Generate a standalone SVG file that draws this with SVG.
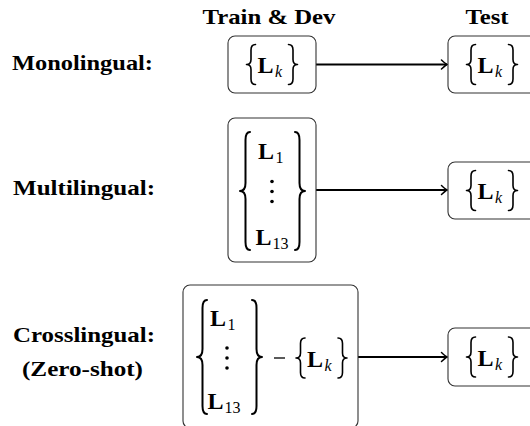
<svg xmlns="http://www.w3.org/2000/svg" width="530" height="426" viewBox="0 0 530 426">
<defs>
<style>
.lbl{font-family:"Liberation Serif","Times New Roman",serif;font-weight:bold;font-size:22px;fill:#000}
.L{font-family:"Liberation Serif","Times New Roman",serif;font-weight:bold;font-size:24px;fill:#000}
.sub{font-family:"Liberation Serif","Times New Roman",serif;font-size:16px;fill:#000}
.subi{font-family:"Liberation Serif","Times New Roman",serif;font-style:italic;font-size:16px;fill:#000}
.box{fill:#fff;stroke:#333;stroke-width:1.1}
.br{fill:none;stroke:#000;stroke-width:1.6;stroke-linecap:round;stroke-linejoin:round}
.brb{fill:none;stroke:#000;stroke-width:2;stroke-linecap:round;stroke-linejoin:round}
.edge{fill:none;stroke:#000;stroke-width:1.8}
</style>
<marker id="arr" markerUnits="userSpaceOnUse" markerWidth="12" markerHeight="12" viewBox="-8 -6 10 12" refX="0" refY="0" orient="auto">
<path d="M-5.5,-4.5 Q-1.5,-0.8 0,0 Q-1.5,0.8 -5.5,4.5" fill="none" stroke="#000" stroke-width="1.5" stroke-linecap="round"/>
</marker>
</defs>

<g id="headers">
<text class="lbl" x="269" y="24" text-anchor="middle" textLength="133" lengthAdjust="spacingAndGlyphs">Train &amp; Dev</text>
<text class="lbl" x="487" y="24" text-anchor="middle" textLength="43" lengthAdjust="spacingAndGlyphs">Test</text>
</g>

<g id="row-labels">
<text class="lbl" x="12" y="70" textLength="141" lengthAdjust="spacingAndGlyphs">Monolingual:</text>
<text class="lbl" x="13" y="195" textLength="142" lengthAdjust="spacingAndGlyphs">Multilingual:</text>
<text class="lbl" x="13" y="342" textLength="142" lengthAdjust="spacingAndGlyphs">Crosslingual:</text>
<text class="lbl" x="22" y="376" textLength="121" lengthAdjust="spacingAndGlyphs">(Zero-shot)</text>
</g>

<g id="connectors">
<line class="edge" x1="316" y1="64.5" x2="447" y2="64.5" marker-end="url(#arr)"/>
<line class="edge" x1="316" y1="190" x2="447" y2="190" marker-end="url(#arr)"/>
<line class="edge" x1="358" y1="357" x2="447" y2="357" marker-end="url(#arr)"/>
</g>

<g id="mono-train">
<rect class="box" x="228" y="36" width="88" height="57" rx="7"/>
<path class="br" d="M255.5,44.5 Q251,44.5 251,50 L251,59.5 Q251,64.5 246.5,64.5 Q251,64.5 251,69.5 L251,79 Q251,84.5 255.5,84.5"/>
<text class="L" x="257.5" y="73">L</text>
<text class="subi" x="275" y="77">k</text>
<path class="br" d="M288.5,44.5 Q293,44.5 293,50 L293,59.5 Q293,64.5 297.5,64.5 Q293,64.5 293,69.5 L293,79 Q293,84.5 288.5,84.5"/>
</g>

<g id="mono-test">
<rect class="box" x="448" y="36" width="88" height="57" rx="7"/>
<path class="br" d="M475.5,44.5 Q471,44.5 471,50 L471,59.5 Q471,64.5 466.5,64.5 Q471,64.5 471,69.5 L471,79 Q471,84.5 475.5,84.5"/>
<text class="L" x="477.5" y="73">L</text>
<text class="subi" x="495" y="77">k</text>
<path class="br" d="M508.5,44.5 Q513,44.5 513,50 L513,59.5 Q513,64.5 517.5,64.5 Q513,64.5 513,69.5 L513,79 Q513,84.5 508.5,84.5"/>
</g>

<g id="multi-train">
<rect class="box" x="228" y="118" width="88" height="144" rx="7"/>
<path class="brb" d="M250,132 Q245.5,132 245.5,140 L245.5,183 Q245.5,191 240,191 Q245.5,191 245.5,199 L245.5,242 Q245.5,250 250,250"/>
<text class="L" x="258" y="159">L</text>
<text class="sub" x="275.5" y="163">1</text>
<circle cx="272" cy="181.5" r="1.8" fill="#000"/>
<circle cx="272" cy="191.5" r="1.8" fill="#000"/>
<circle cx="272" cy="201.5" r="1.8" fill="#000"/>
<text class="L" x="255.5" y="245">L</text>
<text class="sub" x="272.5" y="249">13</text>
<path class="brb" d="M295,132 Q299.5,132 299.5,140 L299.5,183 Q299.5,191 305,191 Q299.5,191 299.5,199 L299.5,242 Q299.5,250 295,250"/>
</g>

<g id="multi-test">
<rect class="box" x="448" y="162" width="88" height="57" rx="7"/>
<path class="br" d="M475.5,170.5 Q471,170.5 471,176 L471,185.5 Q471,190.5 466.5,190.5 Q471,190.5 471,195.5 L471,205 Q471,210.5 475.5,210.5"/>
<text class="L" x="477.5" y="199">L</text>
<text class="subi" x="495" y="203">k</text>
<path class="br" d="M508.5,170.5 Q513,170.5 513,176 L513,185.5 Q513,190.5 517.5,190.5 Q513,190.5 513,195.5 L513,205 Q513,210.5 508.5,210.5"/>
</g>

<g id="cross-train">
<rect class="box" x="183" y="285" width="175" height="143" rx="7"/>
<path class="brb" d="M207,300 Q202.5,300 202.5,308 L202.5,349 Q202.5,357 197,357 Q202.5,357 202.5,365 L202.5,406 Q202.5,414 207,414"/>
<text class="L" x="210" y="326">L</text>
<text class="sub" x="227.5" y="330">1</text>
<circle cx="227" cy="348" r="1.8" fill="#000"/>
<circle cx="227" cy="358" r="1.8" fill="#000"/>
<circle cx="227" cy="368" r="1.8" fill="#000"/>
<text class="L" x="207.5" y="409">L</text>
<text class="sub" x="224.5" y="413">13</text>
<path class="brb" d="M252,300 Q256.5,300 256.5,308 L256.5,349 Q256.5,357 262,357 Q256.5,357 256.5,365 L256.5,406 Q256.5,414 252,414"/>
<line x1="274" y1="358" x2="285" y2="358" stroke="#000" stroke-width="1.3"/>
<path class="br" d="M305,338 Q300.5,338 300.5,343.5 L300.5,353 Q300.5,358 296,358 Q300.5,358 300.5,363 L300.5,372.5 Q300.5,378 305,378"/>
<text class="L" x="307" y="366.5">L</text>
<text class="subi" x="324.5" y="370.5">k</text>
<path class="br" d="M338,338 Q342.5,338 342.5,343.5 L342.5,353 Q342.5,358 347,358 Q342.5,358 342.5,363 L342.5,372.5 Q342.5,378 338,378"/>
</g>

<g id="cross-test">
<rect class="box" x="448" y="328" width="88" height="58" rx="7"/>
<path class="br" d="M475.5,337 Q471,337 471,342.5 L471,352 Q471,357 466.5,357 Q471,357 471,362 L471,371.5 Q471,377 475.5,377"/>
<text class="L" x="477.5" y="365.5">L</text>
<text class="subi" x="495" y="369.5">k</text>
<path class="br" d="M508.5,337 Q513,337 513,342.5 L513,352 Q513,357 517.5,357 Q513,357 513,362 L513,371.5 Q513,377 508.5,377"/>
</g>
</svg>
